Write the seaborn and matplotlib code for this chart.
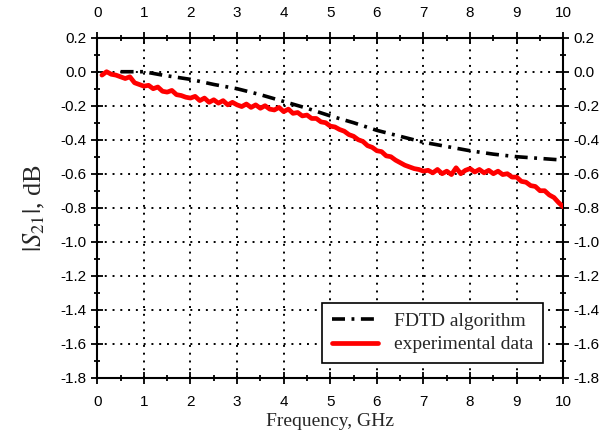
import matplotlib
matplotlib.use("Agg")
import matplotlib.pyplot as plt
import seaborn as sns
import pandas as pd
from matplotlib.ticker import MultipleLocator, FormatStrFormatter

fdtd_f = [0.5, 1.0, 1.4, 2.0, 2.5, 3.0, 3.5, 4.0, 4.5, 5.0, 5.5, 6.0, 6.5, 7.0, 7.5, 8.0, 8.5, 9.0, 9.5, 10.0]
fdtd_s = [0.0, 0.0, -0.02, -0.045, -0.075, -0.10, -0.135, -0.175, -0.215, -0.26, -0.30, -0.345, -0.38, -0.415, -0.44, -0.465, -0.485, -0.50, -0.51, -0.52]

exp_f = [0.10, 0.20, 0.30, 0.40, 0.50, 0.60, 0.70, 0.80, 0.90, 1.00,
         1.10, 1.20, 1.30, 1.40, 1.50, 1.60, 1.70, 1.80, 1.90, 2.00,
         2.10, 2.20, 2.30, 2.40, 2.50, 2.60, 2.70, 2.80, 2.90, 3.00,
         3.10, 3.20, 3.30, 3.40, 3.50, 3.60, 3.70, 3.80, 3.90, 4.00,
         4.10, 4.20, 4.30, 4.40, 4.50, 4.60, 4.70, 4.80, 4.90, 5.00,
         5.10, 5.20, 5.30, 5.40, 5.50, 5.60, 5.70, 5.80, 5.90, 6.00,
         6.10, 6.20, 6.30, 6.40, 6.50, 6.60, 6.70, 6.80, 6.90, 7.00,
         7.10, 7.20, 7.30, 7.40, 7.50, 7.60, 7.70, 7.80, 7.90, 8.00,
         8.10, 8.20, 8.30, 8.40, 8.50, 8.60, 8.70, 8.80, 8.90, 9.00,
         9.10, 9.20, 9.30, 9.40, 9.50, 9.60, 9.70, 9.80, 9.90, 10.00]
exp_s = [-0.02, 0.00, -0.015, -0.02, -0.03, -0.04, -0.03, -0.065, -0.075, -0.085,
         -0.08, -0.10, -0.09, -0.115, -0.12, -0.11, -0.135, -0.14, -0.15, -0.155,
         -0.145, -0.17, -0.155, -0.18, -0.165, -0.185, -0.17, -0.195, -0.18, -0.195,
         -0.205, -0.19, -0.21, -0.195, -0.215, -0.20, -0.22, -0.225, -0.21, -0.235,
         -0.22, -0.245, -0.24, -0.26, -0.255, -0.275, -0.275, -0.295, -0.30, -0.32,
         -0.325, -0.34, -0.35, -0.37, -0.38, -0.40, -0.41, -0.435, -0.445, -0.465,
         -0.47, -0.495, -0.50, -0.52, -0.535, -0.55, -0.56, -0.57, -0.575, -0.585,
         -0.58, -0.595, -0.575, -0.60, -0.585, -0.605, -0.565, -0.60, -0.58, -0.57,
         -0.59, -0.575, -0.595, -0.58, -0.60, -0.585, -0.605, -0.60, -0.62, -0.62,
         -0.645, -0.65, -0.67, -0.675, -0.70, -0.70, -0.725, -0.74, -0.77, -0.795]

sns.set_style("ticks")
plt.rcParams["font.family"] = ["Liberation Sans", "DejaVu Sans"]
plt.rcParams["mathtext.fontset"] = "stix"

fig = plt.figure(figsize=(6.11, 4.34), dpi=100)
ax = fig.add_axes([0.1592, 0.1297, 0.7627, 0.7834])

df_f = pd.DataFrame({"f": fdtd_f, "s": fdtd_s})
df_e = pd.DataFrame({"f": exp_f, "s": exp_s})

sns.lineplot(data=df_f, x="f", y="s", ax=ax, color="black", lw=2.6, sort=False,
             label="FDTD algorithm", zorder=4)
ax.lines[-1].set_dashes((3.6, 1.8, 0.8, 1.8))
sns.lineplot(data=df_e, x="f", y="s", ax=ax, color="#ff0000", lw=3.4, sort=False,
             label="experimental data", zorder=5)

ax.set_xlim(0, 10)
ax.set_ylim(-1.8, 0.2)
ax.xaxis.set_major_locator(MultipleLocator(1))
ax.xaxis.set_minor_locator(MultipleLocator(0.5))
ax.yaxis.set_major_locator(MultipleLocator(0.2))
ax.yaxis.set_minor_locator(MultipleLocator(0.1))
ax.yaxis.set_major_formatter(FormatStrFormatter("%.1f"))

ax.tick_params(which="both", direction="inout", top=True, right=True,
               labeltop=True, labelright=True, colors="black", width=1.3)
ax.tick_params(which="major", length=9, labelsize=11)
ax.tick_params(axis="y", which="major", pad=3)
ax.tick_params(axis="x", which="major", pad=8)
ax.tick_params(which="minor", length=5)
for sp in ax.spines.values():
    sp.set_linewidth(1.5)
    sp.set_color("black")

ax.grid(True, which="major", color="black", linestyle=(0, (1, 3)), linewidth=1.4)

ax.set_xlabel("Frequency, GHz", family=["Liberation Serif"], fontsize=14, labelpad=3)
ax.set_ylabel(r"$|S_{\mathrm{21}}|$, dB", family=["Liberation Serif"], fontsize=19, labelpad=10)

leg = ax.legend(loc="lower right", bbox_to_anchor=(0.956, 0.043), borderaxespad=0,
                frameon=True, fancybox=False, edgecolor="black", framealpha=1,
                prop={"family": "Liberation Serif", "size": 14},
                handlelength=2.4, handletextpad=0.8, borderpad=0.5, labelspacing=0.3)
leg.get_frame().set_linewidth(1.2)

fig.savefig("out.png", dpi=100)
